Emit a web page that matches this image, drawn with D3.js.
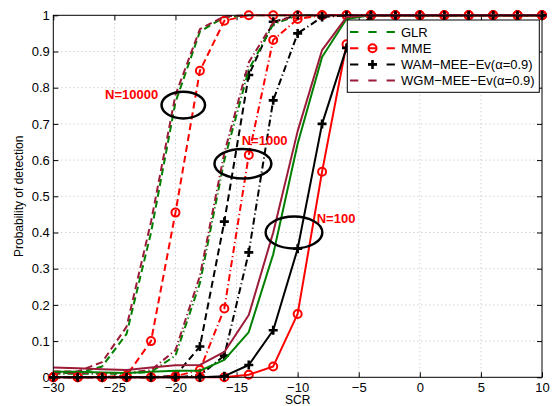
<!DOCTYPE html>
<html>
<head>
<meta charset="utf-8">
<script src="https://cdn.jsdelivr.net/npm/d3@7"></script>
<style>
  body { margin: 0; background: #fff; }
  svg { display: block; }
  text { font-family: "Liberation Sans", Arial, Helvetica, sans-serif; }
</style>
</head>
<body>
<div id="chart"></div>
<script>
// SCR values (x axis), one point every 2 dB
var scr = [-30, -28, -26, -24, -22, -20, -18, -16, -14, -12, -10, -8, -6, -4, -2, 0, 2, 4, 6, 8, 10];

// N = 10000 (dashed)
var glrN10000 = [0.012, 0.012, 0.03, 0.12, 0.40, 0.76, 0.955, 0.995, 1, 1, 1, 1, 1, 1, 1, 1, 1, 1, 1, 1, 1];
var mmeN10000 = [0, 0, 0, 0.005, 0.10, 0.455, 0.847, 0.985, 1, 1, 1, 1, 1, 1, 1, 1, 1, 1, 1, 1, 1];
var wamN10000 = [0, 0, 0, 0, 0, 0.005, 0.085, 0.43, 0.835, 0.982, 1, 1, 1, 1, 1, 1, 1, 1, 1, 1, 1];
var wgmN10000 = [0.016, 0.016, 0.042, 0.14, 0.43, 0.78, 0.962, 0.997, 1, 1, 1, 1, 1, 1, 1, 1, 1, 1, 1, 1, 1];

// N = 1000 (dash-dot)
var glrN1000 = [0.01, 0.01, 0.01, 0.01, 0.015, 0.06, 0.26, 0.60, 0.85, 0.975, 1, 1, 1, 1, 1, 1, 1, 1, 1, 1, 1];
var mmeN1000 = [0, 0, 0, 0, 0, 0.003, 0.02, 0.19, 0.614, 0.932, 0.99, 1, 1, 1, 1, 1, 1, 1, 1, 1, 1];
var wamN1000 = [0, 0, 0, 0, 0, 0, 0.005, 0.06, 0.345, 0.765, 0.95, 0.995, 1, 1, 1, 1, 1, 1, 1, 1, 1];
var wgmN1000 = [0.012, 0.012, 0.012, 0.012, 0.02, 0.075, 0.28, 0.62, 0.87, 0.98, 1, 1, 1, 1, 1, 1, 1, 1, 1, 1, 1];

// N = 100 (solid)
var glrN100 = [0.015, 0.015, 0.013, 0.012, 0.015, 0.018, 0.018, 0.048, 0.125, 0.34, 0.645, 0.885, 0.99, 1, 1, 1, 1, 1, 1, 1, 1];
var mmeN100 = [0, 0, 0, 0, 0, 0, 0, 0, 0.007, 0.03, 0.175, 0.568, 0.92, 1, 1, 1, 1, 1, 1, 1, 1];
var wamN100 = [0, 0, 0, 0, 0, 0, 0, 0.003, 0.034, 0.13, 0.355, 0.70, 0.91, 1, 1, 1, 1, 1, 1, 1, 1];
var wgmN100 = [0.027, 0.025, 0.022, 0.02, 0.027, 0.033, 0.034, 0.07, 0.172, 0.40, 0.68, 0.904, 0.995, 1, 1, 1, 1, 1, 1, 1, 1];

var xTicks = [-30, -25, -20, -15, -10, -5, 0, 5, 10];
var yTicks = [0, 0.1, 0.2, 0.3, 0.4, 0.5, 0.6, 0.7, 0.8, 0.9, 1];
var legendNames = ['GLR', 'MME', 'WAM\u2212MEE\u2212Ev(\u03b1=0.9)', 'WGM\u2212MEE\u2212Ev(\u03b1=0.9)'];

// annotations: label, text anchor (x, p), ellipse centre (x, p), radii (dB, prob)
var notes = [
  {label: 'N=10000', tx: -25.76, tp: 0.769, cx: -19.36, cp: 0.752, rx: 1.78, rp: 0.037},
  {label: 'N=1000', tx: -14.58, tp: 0.642, cx: -14.48, cp: 0.59, rx: 2.33, rp: 0.041},
  {label: 'N=100', tx: -8.44, tp: 0.426, cx: -10.3, cp: 0.40, rx: 2.32, rp: 0.044}
];

var colors = {glr: '#008000', mme: '#ff0000', wam: '#000000', wgm: '#9b1b38'};
var dashes = {N10000: '7,4', N1000: '7,3,1.2,3', N100: null};

var series = [
  {v: glrN10000, c: colors.glr, d: dashes.N10000, m: null},
  {v: mmeN10000, c: colors.mme, d: dashes.N10000, m: 'o'},
  {v: wamN10000, c: colors.wam, d: dashes.N10000, m: '+'},
  {v: wgmN10000, c: colors.wgm, d: dashes.N10000, m: null},
  {v: glrN1000, c: colors.glr, d: dashes.N1000, m: null},
  {v: mmeN1000, c: colors.mme, d: dashes.N1000, m: 'o'},
  {v: wamN1000, c: colors.wam, d: dashes.N1000, m: '+'},
  {v: wgmN1000, c: colors.wgm, d: dashes.N1000, m: null},
  {v: glrN100, c: colors.glr, d: dashes.N100, m: null},
  {v: mmeN100, c: colors.mme, d: dashes.N100, m: 'o'},
  {v: wamN100, c: colors.wam, d: dashes.N100, m: '+'},
  {v: wgmN100, c: colors.wgm, d: dashes.N100, m: null}
];

var W = 554, H = 406;
var plotL = 53.3, plotR = 542, plotT = 15.3, plotB = 377.3;

var svg = d3.select('#chart').append('svg').attr('width', W).attr('height', H);

var x = d3.scaleLinear().domain([-30, 10]).range([plotL, plotR]);
var y = d3.scaleLinear().domain([0, 1]).range([plotB, plotT]);

// grid
var grid = svg.append('g').attr('stroke', '#bdbdbd').attr('stroke-width', 1).attr('stroke-dasharray', '1,3');
grid.selectAll('.gx').data(xTicks.slice(1, -1)).enter().append('line')
  .attr('x1', d => x(d)).attr('x2', d => x(d)).attr('y1', plotT).attr('y2', plotB);
grid.selectAll('.gy').data(yTicks.slice(1, -1)).enter().append('line')
  .attr('y1', d => y(d)).attr('y2', d => y(d)).attr('x1', plotL).attr('x2', plotR);

// axes, ticks pointing inwards on all sides
function styleAxis(g) {
  g.select('.domain').remove();
  g.selectAll('.tick line').attr('stroke', '#000');
  g.selectAll('text').attr('font-size', 13).attr('fill', '#000').attr('font-family', null);
}
var fmtX = d => d3.format('d')(d);
var fmtY = d => (d === 0 || d === 1) ? String(d) : d3.format('.1f')(d);

svg.append('g').attr('transform', 'translate(0,' + plotB + ')')
  .call(d3.axisBottom(x).tickValues(xTicks).tickFormat(fmtX).tickSize(-5).tickPadding(5)).call(styleAxis);
svg.append('g').attr('transform', 'translate(0,' + plotT + ')')
  .call(d3.axisTop(x).tickValues(xTicks).tickFormat('').tickSize(-5)).call(styleAxis);
svg.append('g').attr('transform', 'translate(' + plotL + ',0)')
  .call(d3.axisLeft(y).tickValues(yTicks).tickFormat(fmtY).tickSize(-5).tickPadding(3.5)).call(styleAxis);
svg.append('g').attr('transform', 'translate(' + plotR + ',0)')
  .call(d3.axisRight(y).tickValues(yTicks).tickFormat('').tickSize(-5)).call(styleAxis);

// curves
var line = d3.line().x((d, i) => x(scr[i])).y(d => y(d));
var plot = svg.append('g');

function drawMarker(g, type, color, px, py) {
  if (type === 'o') {
    g.append('circle').attr('cx', px).attr('cy', py).attr('r', 4)
      .attr('fill', 'none').attr('stroke', color).attr('stroke-width', 2);
  } else if (type === '+') {
    g.append('path').attr('d', 'M' + (px - 4.5) + ',' + py + 'H' + (px + 4.5) + 'M' + px + ',' + (py - 4.5) + 'V' + (py + 4.5))
      .attr('stroke', color).attr('stroke-width', 2.6);
  }
}

series.forEach(function(s) {
  plot.append('path').datum(s.v).attr('d', line)
    .attr('fill', 'none').attr('stroke', s.c).attr('stroke-width', 2)
    .attr('stroke-dasharray', s.d).attr('stroke-linejoin', 'round');
  if (s.m) {
    s.v.forEach(function(p, i) { drawMarker(plot, s.m, s.c, x(scr[i]), y(p)); });
  }
});

// box
svg.append('rect').attr('x', plotL).attr('y', plotT).attr('width', plotR - plotL).attr('height', plotB - plotT)
  .attr('fill', 'none').attr('stroke', '#000').attr('stroke-width', 1);

// annotations
notes.forEach(function(n) {
  svg.append('ellipse').attr('cx', x(n.cx)).attr('cy', y(n.cp))
    .attr('rx', x(n.cx + n.rx) - x(n.cx)).attr('ry', y(n.cp) - y(n.cp + n.rp))
    .attr('fill', 'none').attr('stroke', '#000').attr('stroke-width', 2.5);
  svg.append('text').attr('x', x(n.tx)).attr('y', y(n.tp)).text(n.label)
    .attr('font-size', 13).attr('font-weight', 'bold').attr('fill', '#ff0000');
});

// legend
var lg = svg.append('g');
lg.append('rect').attr('x', 347.3).attr('y', 20).attr('width', 192).attr('height', 72.3)
  .attr('fill', '#fff').attr('stroke', '#000').attr('stroke-width', 1);
var legendItems = [
  {c: colors.glr, m: null}, {c: colors.mme, m: 'o'}, {c: colors.wam, m: '+'}, {c: colors.wgm, m: null}
];
legendItems.forEach(function(it, i) {
  var ly = 32 + i * 16.2;
  lg.append('line').attr('x1', 350).attr('x2', 395).attr('y1', ly).attr('y2', ly)
    .attr('stroke', it.c).attr('stroke-width', 2).attr('stroke-dasharray', '8.3,10');
  if (it.m) drawMarker(lg, it.m, it.c, 372.5, ly);
  lg.append('text').attr('x', 401).attr('y', ly).attr('dy', '0.36em').text(legendNames[i])
    .attr('font-size', 13).attr('fill', '#000');
});

// axis labels
svg.append('text').attr('x', (plotL + plotR) / 2).attr('y', 404).attr('text-anchor', 'middle')
  .attr('font-size', 12).text('SCR');
svg.append('text').attr('transform', 'translate(22.5,' + ((plotT + plotB) / 2) + ') rotate(-90)')
  .attr('text-anchor', 'middle').attr('font-size', 12).text('Probability of detection');
</script>
</body>
</html>
